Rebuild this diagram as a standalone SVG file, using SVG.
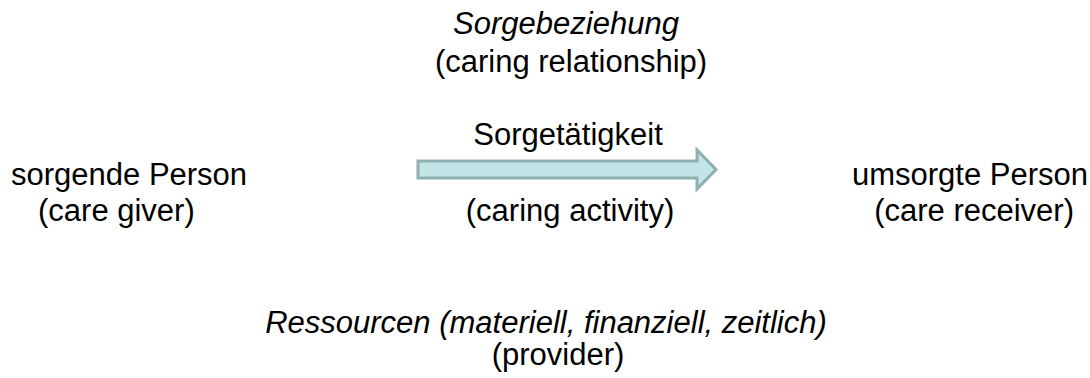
<svg xmlns="http://www.w3.org/2000/svg" width="1090" height="378" viewBox="0 0 1090 378">
<style>
text{font-family:"Liberation Sans",Arial,sans-serif;font-size:31px;fill:#000}
.i{font-style:italic}
.m{text-anchor:middle}
.e{text-anchor:end}
.arrow{fill:#c4e5e7;stroke:#8fb0b1;stroke-width:3}
</style>
<rect width="1090" height="378" fill="#fff"/>
<g id="relationship">
<text class="i m" x="566" y="34">Sorgebeziehung</text>
<text class="m" x="571" y="72">(caring relationship)</text>
</g>
<g id="giver">
<text x="11" y="185">sorgende Person</text>
<text x="38" y="221">(care giver)</text>
</g>
<g id="connectors">
<polygon class="arrow" points="418,161 697,161 697,150 716,169.5 697,189 697,178 418,178"/>
<text class="m" x="568" y="145">Sorgetätigkeit</text>
<text class="m" x="570" y="221">(caring activity)</text>
</g>
<g id="receiver">
<text class="e" x="1088" y="185">umsorgte Person</text>
<text class="e" x="1074" y="221">(care receiver)</text>
</g>
<g id="provider">
<text class="i m" x="546" y="333">Ressourcen (materiell, finanziell, zeitlich)</text>
<text class="m" x="558" y="365">(provider)</text>
</g>
</svg>
